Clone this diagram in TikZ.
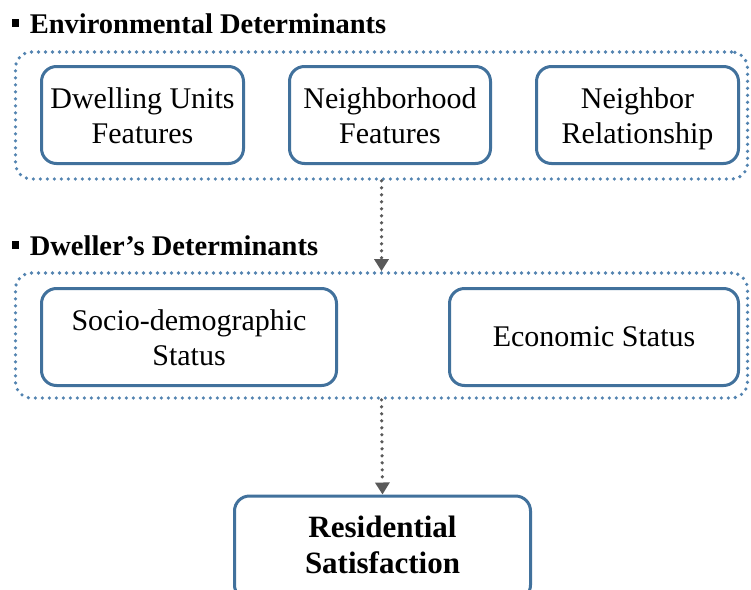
\documentclass[tikz,border=0pt]{standalone}
\usepackage{fontspec}
\setmainfont{Liberation Serif}
\usetikzlibrary{arrows.meta}
\definecolor{boxblue}{HTML}{41719C}
\definecolor{dotblue}{HTML}{5283B0}
\definecolor{arrgray}{HTML}{595959}
\tikzset{
  inbox/.style={draw=boxblue, line width=3pt, rounded corners=15pt, fill=white,
    align=center, inner sep=0pt, font=\fontsize{30}{35}\selectfont},
  outbox/.style={draw=dotblue, line width=3.6pt, rounded corners=16pt,
    dash pattern=on 0pt off 7pt, line cap=round, inner sep=0pt},
  title/.style={anchor=base west, inner sep=0pt, font=\bfseries\fontsize{28.5}{34}\selectfont},
  flow/.style={draw=arrgray, line width=3.6pt, dash pattern=on 0pt off 7pt, line cap=round,
    -{Triangle[width=14pt,length=12pt,fill=arrgray]}},
}
\newcommand{\sqbul}{\raisebox{6pt}{\rule{6.6pt}{8.4pt}}\hspace{11pt}}
\newcommand{\firstln}{\rule{0pt}{24.5pt}}
\newcommand{\lastln}[1]{\raisebox{0pt}[\height][3.5pt]{#1}}
\begin{document}
\begin{tikzpicture}[x=1pt,y=-1pt]
\useasboundingbox[fill=white] (0,0) rectangle (751,589);
% titles
\node[title] (t1) at (12,33) {\sqbul Environmental Determinants};
\node[title] (t2) at (12,255) {\sqbul Dweller’s Determinants};
% outer dotted groups
\node[outbox, minimum width=732pt, minimum height=127pt] (g1) at (381.5,115.5) {};
\node[outbox, minimum width=732pt, minimum height=125pt] (g2) at (381.5,335.5) {};
% inner boxes, row 1
\node[inbox, minimum width=202pt, minimum height=97pt] (du) at (142.5,115) {\firstln Dwelling Units\\\lastln{Features}};
\node[inbox, minimum width=201pt, minimum height=97pt] (nf) at (390,115) {\firstln Neighborhood\\\lastln{Features}};
\node[inbox, minimum width=202pt, minimum height=97pt] (nr) at (637.5,115) {\firstln Neighbor\\\lastln{Relationship}};
% row 2
\node[inbox, minimum width=295pt, minimum height=97pt] (sd) at (189,337) {\firstln Socio-demographic\\\lastln{Status}};
\node[inbox, minimum width=289pt, minimum height=97pt] (es) at (594,337) {Economic Status};
% result
\node[inbox, minimum width=296pt, minimum height=104pt, font=\bfseries\fontsize{31}{36}\selectfont] (rs) at (382.5,548) {\strut Residential\\Satisfaction\strut};
% arrows
\draw[flow] (g1.south) -- (g2.north);
\draw[flow] (g2.south) -- (rs.north);
\end{tikzpicture}
\end{document}
